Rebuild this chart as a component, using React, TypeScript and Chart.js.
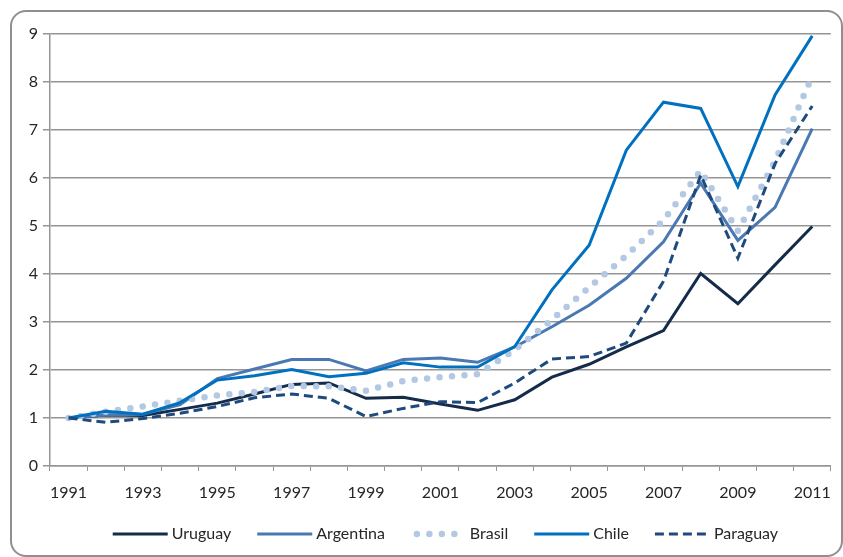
import React, { useEffect, useRef } from 'react';
import { Chart, registerables } from 'chart.js';

Chart.register(...registerables);

const years = ['1991', '1992', '1993', '1994', '1995', '1996', '1997', '1998', '1999', '2000', '2001', '2002', '2003', '2004', '2005', '2006', '2007', '2008', '2009', '2010', '2011'];

const uruguay = [1.0, 1.06, 1.05, 1.18, 1.31, 1.5, 1.7, 1.73, 1.41, 1.43, 1.29, 1.16, 1.38, 1.85, 2.12, 2.48, 2.82, 4.01, 3.38, 4.19, 4.99];
const argentina = [1.0, 1.06, 1.08, 1.28, 1.82, 2.02, 2.22, 2.22, 1.98, 2.22, 2.25, 2.16, 2.48, 2.9, 3.35, 3.91, 4.67, 5.89, 4.7, 5.39, 7.03];
const brasil = [1.0, 1.13, 1.24, 1.36, 1.47, 1.54, 1.67, 1.66, 1.57, 1.77, 1.85, 1.91, 2.42, 3.05, 3.72, 4.38, 5.12, 6.15, 4.9, 6.35, 8.12];
const chile = [1.0, 1.14, 1.08, 1.32, 1.79, 1.88, 2.01, 1.86, 1.93, 2.15, 2.06, 2.06, 2.49, 3.67, 4.6, 6.58, 7.58, 7.45, 5.82, 7.73, 8.96];
const paraguay = [1.0, 0.91, 0.99, 1.1, 1.24, 1.42, 1.5, 1.41, 1.03, 1.2, 1.34, 1.32, 1.73, 2.23, 2.28, 2.56, 3.85, 6.06, 4.33, 6.3, 7.5];

const seriesNames = ['Uruguay', 'Argentina', 'Brasil', 'Chile', 'Paraguay'];

const FONT = 'Lato, "Open Sans", sans-serif';
const TEXT = '#262626';
const GRID = '#959595';

export default function App() {
  const ref = useRef<HTMLCanvasElement | null>(null);

  useEffect(() => {
    if (!ref.current) return;

    const legendPlugin = {
      id: 'bottomLegend',
      afterDraw(chart: any) {
        const ctx = chart.ctx as CanvasRenderingContext2D;
        const sample = 55;
        const gap = 4;
        const itemGap = 26;
        ctx.save();
        ctx.font = `16px ${FONT}`;
        const items = chart.data.datasets.map((ds: any) => ({ ds, w: ctx.measureText(ds.label).width }));
        const total = items.reduce((s: number, it: any) => s + sample + gap + it.w, 0) + itemGap * (items.length - 1);
        const area = chart.chartArea;
        let x = (area.left + area.right) / 2 - total / 2 + 5;
        const y = area.bottom + 68;
        for (const it of items) {
          const ds = it.ds;
          ctx.save();
          ctx.strokeStyle = ds.borderColor;
          ctx.lineWidth = ds.borderWidth;
          ctx.setLineDash(ds.borderDash || []);
          ctx.lineCap = ds.borderCapStyle || 'butt';
          ctx.beginPath();
          const inset = ds.borderCapStyle === 'round' ? 6 : 0;
          ctx.moveTo(x + inset, y);
          ctx.lineTo(x + sample, y);
          ctx.stroke();
          ctx.restore();
          ctx.fillStyle = TEXT;
          ctx.textBaseline = 'middle';
          ctx.textAlign = 'left';
          ctx.fillText(ds.label, x + sample + gap, y);
          x += sample + gap + it.w + itemGap;
        }
        ctx.restore();
      },
    };

    const chart = new Chart(ref.current, {
      type: 'line',
      data: {
        labels: years,
        datasets: [
          { label: seriesNames[0], data: uruguay, borderColor: '#142b4a', borderWidth: 3, pointRadius: 0, tension: 0, order: 5 },
          { label: seriesNames[1], data: argentina, borderColor: '#4a78b2', borderWidth: 3, pointRadius: 0, tension: 0, order: 4 },
          { label: seriesNames[2], data: brasil, borderColor: '#b3c8e3', borderWidth: 6.5, borderDash: [0, 12.5], borderCapStyle: 'round', pointRadius: 0, tension: 0, order: 3 },
          { label: seriesNames[3], data: chile, borderColor: '#0070c0', borderWidth: 3, pointRadius: 0, tension: 0, order: 2 },
          { label: seriesNames[4], data: paraguay, borderColor: '#1f4a7d', borderWidth: 3, borderDash: [9, 5], pointRadius: 0, tension: 0, order: 1 },
        ] as any,
      },
      options: {
        responsive: false,
        animation: false,
        layout: { padding: { top: 34, right: 9, bottom: 51, left: 0 } },
        plugins: {
          legend: { display: false },
          tooltip: { enabled: false },
        },
        scales: {
          x: {
            offset: true,
            grid: { display: true, drawOnChartArea: false, drawTicks: true, tickLength: 5, offset: true, color: GRID, lineWidth: 1 },
            border: { display: true, color: GRID, width: 1.5 },
            ticks: {
              autoSkip: false,
              maxRotation: 0,
              padding: 12,
              color: TEXT,
              font: { family: FONT, size: 16 },
              callback: (_v: any, i: number) => (i % 2 === 0 ? years[i] : ''),
            },
            afterFit: (s: any) => { s.height = 40; },
          },
          y: {
            min: 0,
            max: 9,
            grid: { color: GRID, lineWidth: 1.5, tickLength: 7, drawTicks: true },
            border: { display: true, color: GRID, width: 1.5 },
            ticks: { stepSize: 1, padding: 5, color: TEXT, font: { family: FONT, size: 16 } },
            afterFit: (s: any) => { s.width = 50; },
          },
        },
      },
      plugins: [legendPlugin],
    });
    return () => chart.destroy();
  }, []);

  return (
    <div>
      <div
        style={{
          position: 'absolute',
          left: 10,
          top: 10,
          width: 833,
          height: 547,
          boxSizing: 'border-box',
          border: '2px solid #8f8f8f',
          borderRadius: 16,
          background: '#fff',
        }}
      />
      <canvas ref={ref} width={843} height={557} style={{ position: 'absolute', left: 0, top: 0, display: 'block' }} />
    </div>
  );
}
